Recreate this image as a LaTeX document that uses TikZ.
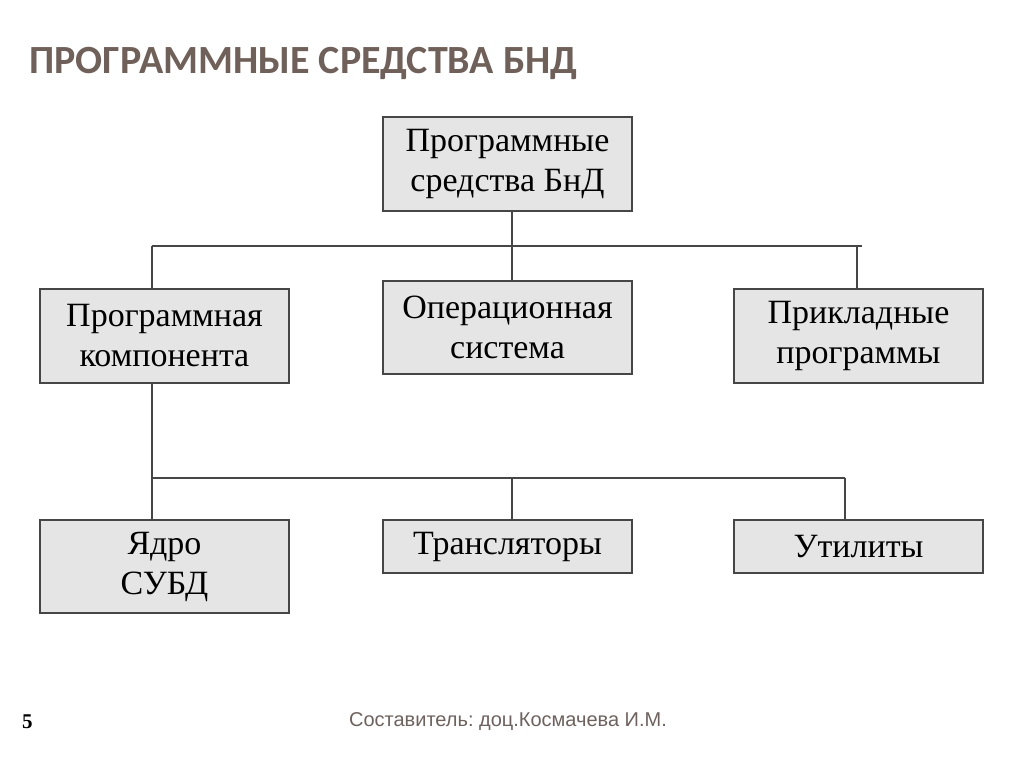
\documentclass[tikz,border=0pt]{standalone}
\usepackage{fontspec}
\setmainfont{Liberation Serif}
\newfontfamily\titlefont{Carlito}
\newfontfamily\footfont{Liberation Sans}
\usetikzlibrary{positioning}

\definecolor{boxfill}{RGB}{229,229,229}
\definecolor{boxline}{RGB}{70,70,70}
\definecolor{titlebrown}{RGB}{112,96,90}
\definecolor{footbrown}{RGB}{110,98,94}

\begin{document}
\begin{tikzpicture}[x=1pt, y=-1pt]
\tikzstyle{box}=[draw=boxline, line width=1.3pt, fill=boxfill, minimum width=249pt, inner sep=0pt, align=center, font=\fontsize{34}{40}\selectfont];
\tikzstyle{link}=[draw=boxline, line width=1.2pt];
\useasboundingbox[fill=white] (0,0) rectangle (1024,767);
\node[anchor=west, text=titlebrown, font=\titlefont\bfseries\fontsize{40}{46}\selectfont, inner sep=0pt] (title) at (29,63) {ПРОГРАММНЫЕ СРЕДСТВА БНД};
\node[box, minimum height=94pt] (top) at (507.5,164) {Программные\\средства БнД};
\node[box, minimum height=94pt] (prog) at (164.5,336) {Программная\\компонента};
\node[box, minimum height=93pt] (os) at (507.5,327.5) {Операционная\\система};
\node[box, minimum height=94pt] (prikl) at (858.5,336) {Прикладные\\программы};
\node[box, minimum height=93pt] (yadro) at (164.5,566.5) {Ядро\\СУБД};
\node[box, minimum height=53pt] (trans) at (507.5,546.5) {Трансляторы};
\node[box, minimum height=53pt] (util) at (858.5,546.5) {Утилиты};
\coordinate (jl) at (152,246);
\coordinate (jm) at (512,246);
\coordinate (jr) at (857,246);
\coordinate (jend) at (862,246);
\coordinate (kl) at (152,478);
\coordinate (km) at (512,478);
\coordinate (kr) at (845,478);
\draw[link] (jl) -- (jend)
(top.south -| jm) -- (os.north -| jm)
(jl) -- (prog.north -| jl)
(jr) -- (prikl.north -| jr)
(prog.south -| kl) -- (yadro.north -| kl)
(kl) -- (kr)
(km) -- (trans.north -| km)
(kr) -- (util.north -| kr);
\node[anchor=west, inner sep=0pt, font=\bfseries\fontsize{21}{24}\selectfont] (page) at (22,722) {5};
\node[text=footbrown, inner sep=0pt, font=\footfont\fontsize{20}{24}\selectfont] (author) at (508,722) {Составитель:\ доц.Космачева И.М.};
\end{tikzpicture}
\end{document}
